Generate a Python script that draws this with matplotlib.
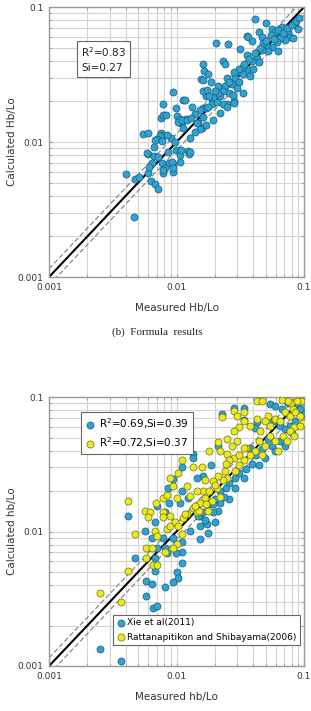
import matplotlib.pyplot as plt
from matplotlib.ticker import LogLocator, NullFormatter, FixedLocator, FixedFormatter

# (b) formula results - measured vs calculated Hb/Lo
form_x = [0.0413, 0.0504, 0.0357, 0.0204, 0.0253, 0.0315, 0.0232, 0.024, 0.0161, 0.0163,
          0.0177, 0.0156, 0.0186, 0.0094, 0.0112, 0.0117, 0.0078, 0.0132, 0.0099, 0.0076,
          0.0079, 0.0101, 0.0106, 0.0118, 0.0109, 0.0112, 0.0055, 0.006, 0.0076, 0.0079,
          0.0074, 0.0070, 0.0066, 0.0128, 0.0091, 0.0060, 0.0067, 0.0072, 0.0099, 0.0106,
          0.0107, 0.0124, 0.0126, 0.0064, 0.0077, 0.0088, 0.0093, 0.0081, 0.0040, 0.0047,
          0.0051, 0.006, 0.0078, 0.0093, 0.0063, 0.0068, 0.0071, 0.0046,
          0.0082, 0.0103, 0.011, 0.012, 0.016, 0.0147, 0.0158, 0.017, 0.0068, 0.0084,
          0.0077, 0.0097, 0.0108, 0.0128, 0.0059, 0.0086, 0.0092, 0.0106, 0.0061, 0.0078,
          0.0094,
          0.0363, 0.039, 0.044, 0.047, 0.056, 0.059, 0.067, 0.071, 0.075, 0.078,
          0.085, 0.090, 0.082, 0.071, 0.065, 0.061, 0.056, 0.051, 0.048, 0.052,
          0.062, 0.047, 0.043, 0.044, 0.039, 0.036, 0.036, 0.040, 0.033, 0.030,
          0.033, 0.038, 0.029, 0.031, 0.027, 0.025, 0.024, 0.030, 0.026, 0.023,
          0.033, 0.022, 0.021, 0.019, 0.017, 0.016, 0.019, 0.025, 0.028, 0.023,
          0.017, 0.016,
          0.0145, 0.0153, 0.016, 0.0177, 0.0206, 0.0219, 0.0248, 0.028, 0.0193, 0.0193,
          0.0153, 0.0140, 0.0172, 0.0278,
          0.055, 0.062, 0.068, 0.073, 0.080, 0.087, 0.092, 0.058, 0.045, 0.041,
          0.050, 0.037, 0.034, 0.031, 0.028, 0.026, 0.021, 0.020, 0.018, 0.014, 0.013]
form_y = [0.0815, 0.076, 0.061, 0.054, 0.053, 0.0489, 0.0398, 0.038, 0.0378, 0.0336,
          0.0318, 0.0292, 0.0278, 0.0235, 0.0205, 0.0205, 0.0191, 0.0181, 0.0178, 0.0151,
          0.0158, 0.0155, 0.0147, 0.0147, 0.0139, 0.0127, 0.0115, 0.0116, 0.0116, 0.0113,
          0.011, 0.0105, 0.0092, 0.0108, 0.0107, 0.0081, 0.0079, 0.0078, 0.0088, 0.0084,
          0.0080, 0.0086, 0.0082, 0.0070, 0.0070, 0.0070, 0.0069, 0.0064, 0.0058, 0.0053,
          0.0055, 0.0059, 0.0059, 0.0060, 0.0051, 0.0049, 0.0045, 0.0028,
          0.0158, 0.0140, 0.0146, 0.0146, 0.0180, 0.0138, 0.0127, 0.0133, 0.0103, 0.0112,
          0.0102, 0.0100, 0.0087, 0.0084, 0.0083, 0.0084, 0.0071, 0.0071, 0.0065, 0.0062,
          0.0064,
          0.060, 0.056, 0.065, 0.060, 0.069, 0.065, 0.071, 0.064, 0.065, 0.060,
          0.073, 0.069, 0.059, 0.057, 0.059, 0.055, 0.051, 0.051, 0.054, 0.047,
          0.047, 0.048, 0.042, 0.039, 0.040, 0.044, 0.035, 0.035, 0.036, 0.033,
          0.032, 0.031, 0.030, 0.028, 0.027, 0.030, 0.026, 0.025, 0.023, 0.024,
          0.023, 0.022, 0.023, 0.021, 0.022, 0.024, 0.019, 0.019, 0.020, 0.019,
          0.018, 0.029,
          0.0138, 0.0172, 0.0153, 0.0181, 0.0197, 0.0164, 0.0181, 0.0194, 0.0216, 0.0146,
          0.0124, 0.0118, 0.0242, 0.0224,
          0.062, 0.068, 0.064, 0.070, 0.074, 0.079, 0.083, 0.058, 0.050, 0.046,
          0.056, 0.041, 0.038, 0.035, 0.033, 0.028, 0.026, 0.024, 0.022, 0.016, 0.015]

# Xie et al (2011)
xie_x = [0.0228, 0.028, 0.034, 0.054, 0.059, 0.067, 0.075, 0.090, 0.100, 0.034,
         0.043, 0.057, 0.065, 0.041, 0.021, 0.0135, 0.0135, 0.0186, 0.011, 0.016,
         0.0145, 0.0094, 0.0086, 0.0110, 0.0123, 0.026, 0.022, 0.0107, 0.0087, 0.007,
         0.0042, 0.0081, 0.021,
         0.0153, 0.0194, 0.020, 0.0173, 0.0153, 0.0128, 0.0177, 0.0057, 0.0068, 0.0064,
         0.0078, 0.0094, 0.0153, 0.011, 0.0070, 0.0081, 0.011, 0.0084, 0.0099, 0.0068,
         0.0047, 0.011, 0.0068, 0.010, 0.0103, 0.0058, 0.0064, 0.0094, 0.0081, 0.0058,
         0.0065, 0.0070, 0.0025, 0.0037,
         0.093, 0.085, 0.078, 0.071, 0.065, 0.056, 0.052, 0.047, 0.042, 0.038,
         0.039, 0.035, 0.031, 0.029, 0.026, 0.0245, 0.022, 0.020, 0.018, 0.016,
         0.0148, 0.0167, 0.0194, 0.0235, 0.029, 0.034, 0.044, 0.049, 0.059, 0.071, 0.080]
xie_y = [0.075, 0.083, 0.083, 0.089, 0.086, 0.081, 0.090, 0.089, 0.076, 0.067,
         0.065, 0.066, 0.061, 0.059, 0.043, 0.038, 0.035, 0.031, 0.030, 0.026,
         0.025, 0.0247, 0.0209, 0.0201, 0.0179, 0.0173, 0.0162, 0.0162, 0.0162, 0.0155,
         0.0131, 0.0139, 0.0143,
         0.0131, 0.0139, 0.0117, 0.0114, 0.0110, 0.0101, 0.0098, 0.0101, 0.0117, 0.0090,
         0.0090, 0.0090, 0.0088, 0.0083, 0.0075, 0.0075, 0.0070, 0.0069, 0.0069, 0.0063,
         0.0063, 0.0058, 0.0051, 0.0050, 0.0045, 0.0043, 0.0041, 0.0042, 0.0039, 0.0033,
         0.0027, 0.0028, 0.00134, 0.00109,
         0.081, 0.066, 0.061, 0.058, 0.047, 0.043, 0.049, 0.041, 0.037, 0.042,
         0.032, 0.029, 0.027, 0.025, 0.023, 0.021, 0.020, 0.0175, 0.016, 0.0139,
         0.0131, 0.0121, 0.016, 0.018, 0.021, 0.025, 0.031, 0.035, 0.040, 0.043, 0.054]

# Rattanapitikon and Shibayama (2006)
rat_x = [0.0428, 0.047, 0.067, 0.079, 0.095, 0.028, 0.0228, 0.034, 0.031, 0.043,
         0.052, 0.082, 0.098, 0.083, 0.021, 0.025, 0.030, 0.035, 0.018, 0.022,
         0.025, 0.028, 0.0135, 0.0158, 0.0110, 0.0103, 0.0089, 0.0094, 0.0120, 0.0078,
         0.0084, 0.0101, 0.0167, 0.0194, 0.0207, 0.0162, 0.0042, 0.0069, 0.0057, 0.0062,
         0.0078, 0.0120, 0.0135, 0.0152,
         0.0025, 0.0037, 0.0042, 0.0047, 0.0058, 0.0064, 0.0058, 0.0065, 0.0070, 0.0068,
         0.0070, 0.0084, 0.0089, 0.0097, 0.0103, 0.011, 0.010, 0.0081, 0.0094, 0.0112,
         0.006, 0.0078, 0.0089, 0.0116, 0.0145,
         0.030, 0.034, 0.028, 0.038, 0.045, 0.049, 0.054, 0.059, 0.065, 0.071,
         0.078, 0.085, 0.093, 0.088, 0.075, 0.078, 0.068, 0.059, 0.054, 0.049,
         0.044, 0.041, 0.038, 0.034, 0.034, 0.031, 0.029, 0.031, 0.026, 0.024,
         0.025, 0.023, 0.021, 0.020, 0.018, 0.022, 0.019, 0.017, 0.015, 0.0175,
         0.0139, 0.0127, 0.0145, 0.0167, 0.027, 0.0245, 0.047, 0.063, 0.074, 0.083, 0.093]
rat_y = [0.093, 0.093, 0.095, 0.090, 0.093, 0.079, 0.071, 0.078, 0.060, 0.069,
         0.072, 0.081, 0.064, 0.060, 0.046, 0.049, 0.047, 0.042, 0.040, 0.040,
         0.038, 0.035, 0.030, 0.030, 0.034, 0.0273, 0.0251, 0.0219, 0.0219, 0.0179,
         0.0188, 0.0179, 0.0179, 0.0237, 0.0212, 0.0201, 0.0170, 0.0162, 0.0141, 0.0139,
         0.0139, 0.0136, 0.0150, 0.0162,
         0.0035, 0.0030, 0.0051, 0.0096, 0.0076, 0.0075, 0.0063, 0.0056, 0.0056, 0.0101,
         0.0092, 0.0105, 0.0110, 0.0117, 0.0110, 0.0096, 0.0081, 0.0070, 0.0076, 0.0125,
         0.0129, 0.0129, 0.0131, 0.0136, 0.0139,
         0.072, 0.066, 0.056, 0.061, 0.056, 0.066, 0.061, 0.069, 0.066, 0.078,
         0.072, 0.078, 0.072, 0.093, 0.093, 0.056, 0.051, 0.047, 0.051, 0.043,
         0.047, 0.040, 0.037, 0.042, 0.034, 0.031, 0.028, 0.037, 0.034, 0.028,
         0.025, 0.024, 0.026, 0.022, 0.020, 0.018, 0.017, 0.016, 0.0143, 0.0143,
         0.0155, 0.0185, 0.020, 0.024, 0.043, 0.032, 0.037, 0.040, 0.047, 0.051, 0.061]

blue = "#2EA3D2"
blue_edge = "#1D5A78"
yellow = "#EAEA22"
yellow_edge = "#6E6E10"

fig = plt.figure(figsize=(3.11, 7.11), dpi=100)
ax1 = fig.add_axes([0.1576, 0.6104, 0.82, 0.3797])
ax2 = fig.add_axes([0.1576, 0.0633, 0.82, 0.3783])


def style_axes(ax):
    ax.set_xscale("log")
    ax.set_yscale("log")
    ax.set_xlim(0.001, 0.1)
    ax.set_ylim(0.001, 0.1)
    ax.xaxis.set_major_locator(FixedLocator([0.001, 0.01, 0.1]))
    ax.yaxis.set_major_locator(FixedLocator([0.001, 0.01, 0.1]))
    ax.xaxis.set_major_formatter(FixedFormatter(["0.001", "0.01", "0.1"]))
    ax.yaxis.set_major_formatter(FixedFormatter(["0.001", "0.01", "0.1"]))
    ax.xaxis.set_minor_locator(LogLocator(base=10, subs=range(2, 10)))
    ax.yaxis.set_minor_locator(LogLocator(base=10, subs=range(2, 10)))
    ax.xaxis.set_minor_formatter(NullFormatter())
    ax.yaxis.set_minor_formatter(NullFormatter())
    ax.grid(True, which="both", color="#D4D4D4", lw=0.8)
    ax.set_axisbelow(True)
    ax.tick_params(which="both", direction="in", length=2, color="#999999",
                   labelsize=6.5, labelcolor="#333333", top=True, right=True, pad=4)
    for s in ax.spines.values():
        s.set_color("#9A9A9A")
        s.set_linewidth(1.0)
    line = [0.001, 0.1]
    ax.plot(line, line, color="black", lw=1.5, zorder=2)
    ax.plot(line, [v * 1.15 for v in line], color="#8A8A8A", lw=0.9, ls=(0, (4, 2)), zorder=2)
    ax.plot(line, [v / 1.15 for v in line], color="#8A8A8A", lw=0.9, ls=(0, (4, 2)), zorder=2)


style_axes(ax1)
ax1.scatter(form_x, form_y, s=26, c=blue, edgecolors=blue_edge, linewidths=0.5, zorder=3)
ax1.set_xlabel("Measured Hb/Lo", fontsize=7.5, color="#333333")
ax1.set_ylabel("Calculated Hb/Lo", fontsize=7.5, color="#333333")
ax1.xaxis.set_label_coords(0.5, -0.095)
ax1.yaxis.set_label_coords(-0.125, 0.5)
ax1.text(0.125, 0.86, "R$^2$=0.83\nSi=0.27", transform=ax1.transAxes, fontsize=7.5,
         va="top", ha="left", color="#222222", linespacing=1.5, zorder=5,
         bbox=dict(boxstyle="square,pad=0.4", fc="white", ec="#666666", lw=0.8))

fig.text(0.505, 0.533, "(b)  Formula  results", ha="center", va="center",
         fontsize=8, family="Liberation Serif", color="#222222")

style_axes(ax2)
h1 = ax2.scatter(xie_x, xie_y, s=26, c=blue, edgecolors=blue_edge, linewidths=0.5, zorder=3)
h2 = ax2.scatter(rat_x, rat_y, s=26, c=yellow, edgecolors=yellow_edge, linewidths=0.5, zorder=4)
ax2.set_xlabel("Measured hb/Lo", fontsize=7.5, color="#333333")
ax2.set_ylabel("Calculated hb/Lo", fontsize=7.5, color="#333333")
ax2.xaxis.set_label_coords(0.5, -0.095)
ax2.yaxis.set_label_coords(-0.125, 0.5)

leg1 = ax2.legend([h1, h2], ["R$^2$=0.69,Si=0.39", "R$^2$=0.72,Si=0.37"],
                  loc="upper left", bbox_to_anchor=(0.105, 0.965), fontsize=7.5,
                  fancybox=False, edgecolor="#666666", framealpha=1,
                  handletextpad=0.3, borderpad=0.4, labelspacing=0.4, handlelength=1.0)
leg1.get_frame().set_linewidth(0.8)
ax2.add_artist(leg1)
leg2 = ax2.legend([h1, h2], ["Xie et al(2011)", "Rattanapitikon and Shibayama(2006)"],
                  loc="lower right", bbox_to_anchor=(1.0, 0.06), fontsize=6.5,
                  fancybox=False, edgecolor="#666666", framealpha=1,
                  handletextpad=0.1, borderpad=0.4, labelspacing=0.6, handlelength=1.0)
leg2.get_frame().set_linewidth(0.8)

plt.savefig("out.png", dpi=100)
